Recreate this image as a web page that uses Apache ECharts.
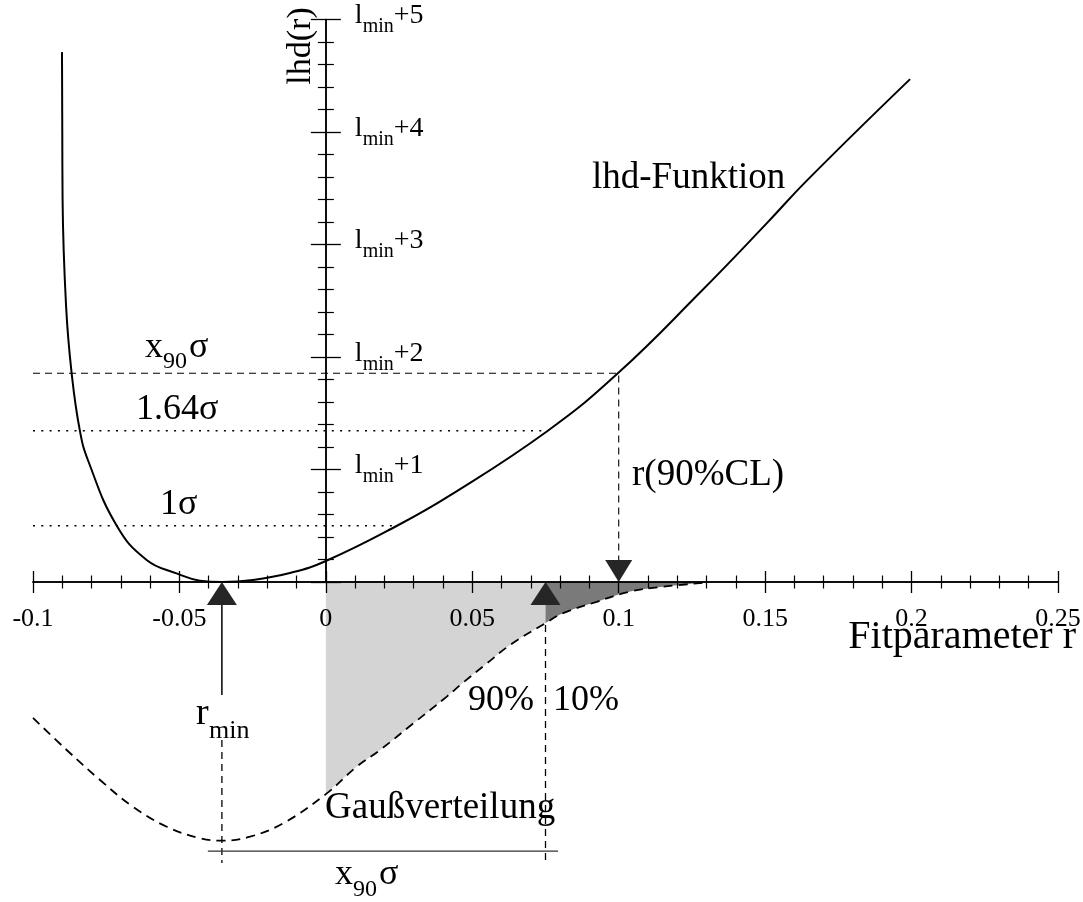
<!DOCTYPE html>
<html>
<head>
<meta charset="utf-8">
<script src="https://cdn.jsdelivr.net/npm/echarts@6/dist/echarts.min.js"></script>
<style>
  html, body { margin: 0; padding: 0; background: #fff; }
  #chart { width: 1083px; height: 902px; }
</style>
</head>
<body>
<div id="chart"></div>
<script>
// ---- axis ranges and tick labels ----
const X_MIN = -0.1, X_MAX = 0.25, X_STEP = 0.05;
const xTickLabels = ['-0.1', '-0.05', '0', '0.05', '0.1', '0.15', '0.2', '0.25'];
const yTickLabels = ['', '+1', '+2', '+3', '+4', '+5'];

// ---- likelihood function lhd(r), height above its minimum l_min ----
const lhdR = [-0.0901, -0.0900, -0.0899, -0.0887, -0.0868, -0.0840, -0.0812, -0.0714, -0.0612, -0.0510,
              -0.0430, -0.0355, -0.0249, -0.0123, 0, 0.0243, 0.0424, 0.0758, 0.0997, 0.128, 0.1506,
              0.1643, 0.1995];
const lhdV = [4.71, 4.0, 3.40, 2.45, 1.855, 1.345, 1.08, 0.50, 0.196, 0.077,
              0.012, 0, 0.018, 0.08, 0.187, 0.50, 0.77, 1.345, 1.855, 2.58, 3.19,
              3.57, 4.47];

// ---- Gaussian distribution, drawn hanging below the r axis (relative depth) ----
const gaussR = [-0.1, -0.0885, -0.0771, -0.0659, -0.0543, -0.043, -0.0356, -0.0259, -0.0145, 0,
                0.0105, 0.0185, 0.0299, 0.0413, 0.0469, 0.0549, 0.0629, 0.075, 0.081, 0.0925, 0.1039, 0.115, 0.130];
const gaussG = [0.453, 0.56, 0.66, 0.749, 0.816, 0.854, 0.862, 0.849, 0.804, 0.707,
                0.616, 0.56, 0.471, 0.382, 0.335, 0.272, 0.21, 0.137, 0.104, 0.066, 0.032, 0.016, 0.002];

// ---- characteristic values ----
const rMin = -0.0355;          // position of the minimum
const r90 = 0.075;             // 90 % quantile of the Gaussian
const rCL = 0.1;               // r(90%CL) read from lhd
const levelX90 = 1.855;        // x90*sigma level
const level164 = 1.345;        // 1.64 sigma level
const level1 = 0.5;            // 1 sigma level
const r164Cross = 0.0758;      // where the 1.64 sigma level meets lhd
const r1Cross = 0.0243;        // where the 1 sigma level meets lhd
const rClArrowTop = 0.196;     // lower end of the r(90%CL) drop line
const stemRange = [0.077, 0.377];      // solid stem under r_min marker
const rMinDropRange = [0.527, 0.937];  // dashed drop line at r_min
const r90DropRange = [0.143, 0.937];   // dashed drop line at the 90 % quantile
const bracketLevel = 0.897;            // x90*sigma bracket
const bracketR = [-0.0403, 0.0793];

// ---- layout ----
const GRID_LEFT = 33, GRID_W = 1025;
const zeroShift = GRID_W * (0 - X_MIN) / (X_MAX - X_MIN);
const FONT = '"Liberation Serif", "DejaVu Serif", serif';
const INK = '#000';

const zip = (a, b) => a.map((v, i) => [v, b[i]]);
const gaussPts = zip(gaussR, gaussG);
const lightPts = gaussPts.filter(p => p[0] >= 0 && p[0] <= r90);
const darkPts = gaussPts.filter(p => p[0] >= r90);

const xAxisBase = {
  type: 'value', min: X_MIN, max: X_MAX, interval: X_STEP,
  axisLine: { onZero: false, lineStyle: { color: INK, width: 1.5 } },
  axisTick: { inside: true, length: 11, lineStyle: { color: INK, width: 1.3 } },
  minorTick: { show: true, splitNumber: 5, length: 6.5, lineStyle: { color: INK, width: 1.2 } },
  splitLine: { show: false },
  z: 5
};
const yAxisBase = {
  type: 'value', min: 0, max: 5, interval: 1,
  axisLine: { onZero: false, lineStyle: { color: INK, width: 1.5 } },
  axisTick: { inside: false, length: 15, lineStyle: { color: INK, width: 1.3 } },
  minorTick: { show: true, splitNumber: 5, length: 8, lineStyle: { color: INK, width: 1.2 } },
  splitLine: { show: false },
  z: 5
};

function lineSeries(data, xi, yi, type, width, extra) {
  return Object.assign({
    type: 'line', xAxisIndex: xi, yAxisIndex: yi, data: data,
    symbol: 'none', silent: true, animation: false,
    lineStyle: { color: INK, width: width, type: type }
  }, extra || {});
}

function text(x, y, s, size, opts) {
  opts = opts || {};
  return {
    type: 'text', x: x, y: y, rotation: opts.rotation || 0, z: 20,
    style: {
      text: s, fontFamily: FONT, fontSize: size, fill: INK,
      align: opts.align || 'left', verticalAlign: 'middle',
      textAlign: opts.align || 'left', textVerticalAlign: 'middle'
    }
  };
}

const chart = echarts.init(document.getElementById('chart'), null, { renderer: 'canvas' });

chart.setOption({
  backgroundColor: '#fff',
  animation: false,
  grid: [
    { left: GRID_LEFT, top: 19.5, width: GRID_W, height: 562.5, containLabel: false, outerBoundsMode: 'none' },
    { left: GRID_LEFT, top: 582, width: GRID_W, height: 300, containLabel: false, outerBoundsMode: 'none' }
  ],
  xAxis: [
    Object.assign({}, xAxisBase, {
      gridIndex: 0, position: 'bottom',
      axisLabel: {
        margin: 24, fontFamily: FONT, fontSize: 26, color: INK,
        formatter: v => xTickLabels[Math.round((v - X_MIN) / X_STEP)]
      }
    }),
    Object.assign({}, xAxisBase, {
      gridIndex: 1, position: 'top', axisLabel: { show: false }
    })
  ],
  yAxis: [
    Object.assign({}, yAxisBase, {
      gridIndex: 0, position: 'left', offset: -zeroShift,
      axisLabel: {
        inside: true, margin: 29, color: INK,
        formatter: v => {
          const s = yTickLabels[Math.round(v)];
          return s ? '{a|l}{s|min}{a|' + s + '}' : '';
        },
        rich: {
          a: { fontFamily: FONT, fontSize: 28, color: INK, verticalAlign: 'bottom', padding: [0, 0, 7, 0] },
          s: { fontFamily: FONT, fontSize: 20, color: INK, verticalAlign: 'bottom' }
        }
      }
    }),
    Object.assign({}, yAxisBase, {
      gridIndex: 0, position: 'right', offset: -(GRID_W - zeroShift),
      axisLabel: { show: false }
    }),
    { gridIndex: 1, type: 'value', min: 0, max: 1, inverse: true, show: false }
  ],
  series: [
    // shaded parts of the Gaussian: 90 % (light) and 10 % (dark)
    lineSeries(lightPts, 1, 2, 'solid', 0, {
      smooth: 0.4, z: 1,
      lineStyle: { width: 0, opacity: 0 },
      areaStyle: { color: '#d4d4d4', opacity: 1 }
    }),
    lineSeries(darkPts, 1, 2, 'solid', 0, {
      smooth: 0.4, z: 1,
      lineStyle: { width: 0, opacity: 0 },
      areaStyle: { color: '#7a7a7a', opacity: 1 }
    }),
    // Gaussian outline
    lineSeries(gaussPts, 1, 2, [9, 6], 1.8, { smooth: 0.4, z: 3 }),

    // likelihood curve
    lineSeries(zip(lhdR, lhdV), 0, 0, 'solid', 2, { smooth: 0.45, z: 4 }),

    // sigma levels
    lineSeries([[X_MIN, levelX90], [rCL, levelX90], [rCL, rClArrowTop]], 0, 0, [7, 5], 1.1),
    lineSeries([[X_MIN, level164], [r164Cross, level164]], 0, 0, [2, 6.3], 1.6),
    lineSeries([[X_MIN, level1], [r1Cross, level1]], 0, 0, [2, 6.3], 1.6),

    // lower construction lines
    lineSeries([[rMin, stemRange[0]], [rMin, stemRange[1]]], 1, 2, 'solid', 1.5),
    lineSeries([[rMin, rMinDropRange[0]], [rMin, rMinDropRange[1]]], 1, 2, [7, 5], 1.3),
    lineSeries([[r90, r90DropRange[0]], [r90, r90DropRange[1]]], 1, 2, [7, 5], 1.3),
    lineSeries([[bracketR[0], bracketLevel], [bracketR[1], bracketLevel]], 1, 2, 'solid', 1.3,
      { lineStyle: { color: '#333', width: 1.3 } }),

    // markers on the r axis
    {
      type: 'scatter', xAxisIndex: 1, yAxisIndex: 2, silent: true, z: 6,
      symbol: 'triangle', symbolSize: [30, 23], symbolOffset: [0, '50%'],
      itemStyle: { color: '#262626', opacity: 1 },
      data: [[rMin, 0], [r90, 0]]
    },
    {
      type: 'scatter', xAxisIndex: 0, yAxisIndex: 0, silent: true, z: 6,
      symbol: 'triangle', symbolSize: [27, 22], symbolRotate: 180, symbolOffset: [0, '-50%'],
      itemStyle: { color: '#262626', opacity: 1 },
      data: [[rCL, 0]]
    }
  ],
  graphic: [
    text(301, 46, 'lhd(r)', 34, { rotation: Math.PI / 2, align: 'center' }),
    text(592, 178, 'lhd-Funktion', 37),
    text(632, 475, 'r(90%CL)', 37),
    text(1076, 637, 'Fitparameter r', 40, { align: 'right' }),
    text(136, 410, '1.64σ', 36),
    text(160, 505, '1σ', 36),
    text(145, 348, 'x', 36),
    text(163, 362, '90', 24),
    text(189, 348, 'σ', 36),
    text(468, 701, '90%', 36),
    text(553, 701, '10%', 36),
    text(325, 808, 'Gaußverteilung', 37),
    text(196, 714, 'r', 38),
    text(209, 731, 'min', 26),
    text(335, 875, 'x', 36),
    text(353, 890, '90', 24),
    text(379, 875, 'σ', 36)
  ]
});
</script>
</body>
</html>
